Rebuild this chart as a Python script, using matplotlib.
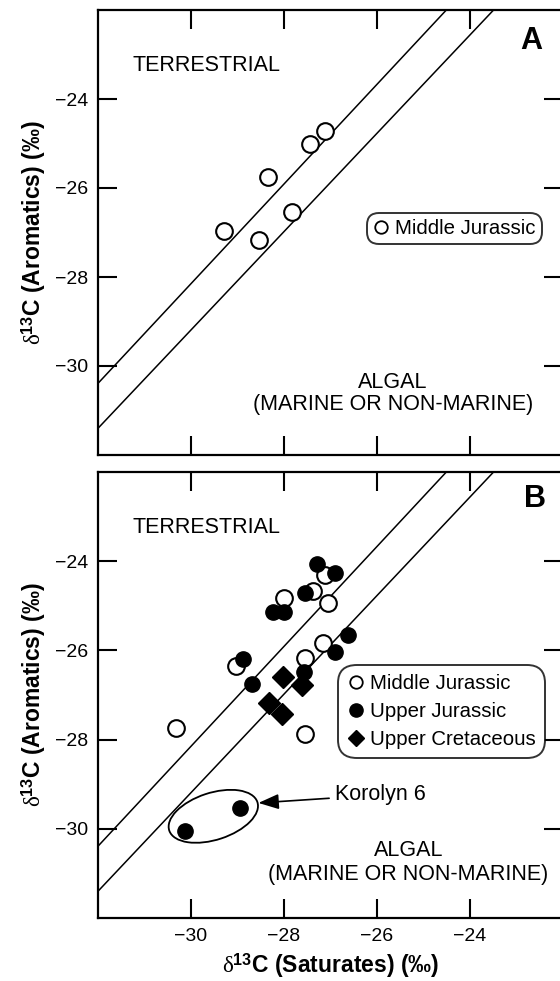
"""Carbon isotope cross-plot: saturates vs aromatics, panels A and B."""

import matplotlib
matplotlib.use("Agg")
import matplotlib.pyplot as plt
from matplotlib.lines import Line2D
from matplotlib.patches import Ellipse

plt.rcParams["font.family"] = ["Liberation Sans", "DejaVu Sans"]
plt.rcParams["mathtext.fontset"] = "custom"
plt.rcParams["mathtext.rm"] = "Liberation Serif"
plt.rcParams["mathtext.bf"] = "Liberation Sans:bold"
plt.rcParams["mathtext.default"] = "rm"

# panel A: Middle Jurassic only
a_mj_sat = [-29.30, -28.53, -28.35, -27.83, -27.45, -27.12]
a_mj_aro = [-26.97, -27.16, -25.75, -26.53, -25.02, -24.73]

# panel B
b_mj_sat = [-30.32, -29.04, -28.01, -27.38, -27.11, -27.06, -27.16, -27.54, -27.55]
b_mj_aro = [-27.75, -26.36, -24.82, -24.67, -24.32, -24.93, -25.84, -26.16, -27.87]

b_uj_sat = [-27.30, -26.91, -27.55, -28.24, -28.01, -26.63, -26.91, -28.88,
            -28.69, -27.57, -30.13, -28.94]
b_uj_aro = [-24.06, -24.26, -24.71, -25.13, -25.15, -25.65, -26.04, -26.19,
            -26.76, -26.48, -30.06, -29.54]

b_uc_sat = [-28.03, -27.62, -28.33, -28.05]
b_uc_aro = [-26.60, -26.78, -27.17, -27.43]

# boundary lines: aro = slope * sat + intercept
line_slopes = [1.12, 1.105]
line_intercepts = [5.45, 3.96]

ticks = [-30, -28, -26, -24]
lims = (-32, -22)
label_fs = 14
text_fs = 15.5
leg_fs = 14.7
axlab_fs = 16.5

fig = plt.figure(figsize=(5.6, 9.81), dpi=100)
ax_a = fig.add_axes([98 / 560, 526 / 981, 465 / 560, 445 / 981])
ax_b = fig.add_axes([98 / 560, 63 / 981, 465 / 560, 446 / 981])

open_style = dict(linestyle="none", marker="o", markersize=12,
                  markerfacecolor="white", markeredgecolor="black",
                  markeredgewidth=1.5)
fill_style = dict(linestyle="none", marker="o", markersize=11,
                  markerfacecolor="black", markeredgecolor="black")
diam_style = dict(linestyle="none", marker="D", markersize=11,
                  markerfacecolor="black", markeredgecolor="black")

ylab = r"$\delta^{\mathbf{13}}$C (Aromatics) (‰)"

for ax in (ax_a, ax_b):
    ax.set_xlim(lims)
    ax.set_ylim(lims)
    xs = [lims[0], lims[1]]
    for m, b in zip(line_slopes, line_intercepts):
        ax.plot(xs, [m * x + b for x in xs], color="black",
                linewidth=1.1, zorder=1)
    ax.set_xticks(ticks)
    ax.set_yticks(ticks)
    ax.tick_params(direction="in", length=14, width=1.5, top=True,
                   right=True, labelsize=label_fs, pad=7)
    for sp in ax.spines.values():
        sp.set_linewidth(1.6)
    ax.set_ylabel(ylab, fontsize=axlab_fs, fontweight="bold", labelpad=5)
    ax.text(-31.26, -23.24, "TERRESTRIAL", fontsize=text_fs, va="center",
            ha="left")

ax_a.set_xticklabels([])

# panel A
ax_a.plot(a_mj_sat, a_mj_aro, zorder=3, **open_style)
ax_a.text(-25.66, -30.36, "ALGAL", fontsize=text_fs, ha="center", va="center")
ax_a.text(-25.66, -30.87, "(MARINE OR NON-MARINE)", fontsize=text_fs,
          ha="center", va="center")
ax_a.text(-22.68, -22.69, "A", fontsize=22, fontweight="bold", ha="center",
          va="center")
h_open = Line2D([], [], linestyle="none", marker="o", markersize=9,
                markerfacecolor="white", markeredgecolor="black",
                markeredgewidth=1.3)
leg_a = ax_a.legend([h_open], ["Middle Jurassic"], loc="center",
                    bbox_to_anchor=(0.766, 0.509), fontsize=leg_fs,
                    frameon=True, fancybox=True, handlelength=0.8,
                    handletextpad=0.3, borderpad=0.3, borderaxespad=0)
leg_a.get_frame().set_edgecolor("black")
leg_a.get_frame().set_linewidth(1.4)
leg_a.get_frame().set_boxstyle("round,pad=0,rounding_size=0.6")

# panel B
ax_b.plot(b_mj_sat, b_mj_aro, zorder=3, **open_style)
ax_b.plot(b_uj_sat, b_uj_aro, zorder=4, **fill_style)
ax_b.plot(b_uc_sat, b_uc_aro, zorder=4, **diam_style)
ax_b.add_patch(Ellipse((-29.52, -29.72), 2.0, 1.05, angle=19,
                       facecolor="none", edgecolor="black", linewidth=1.3,
                       zorder=2))
ax_b.annotate("Korolyn 6", xy=(-28.55, -29.42), xytext=(-26.91, -29.24),
              fontsize=text_fs, va="center", ha="left",
              arrowprops=dict(arrowstyle="-|>,head_length=0.8,head_width=0.3",
                              color="black", linewidth=1.2, shrinkA=2,
                              shrinkB=0))
ax_b.text(-25.32, -30.49, "ALGAL", fontsize=text_fs, ha="center", va="center")
ax_b.text(-25.32, -31.02, "(MARINE OR NON-MARINE)", fontsize=text_fs,
          ha="center", va="center")
ax_b.text(-22.60, -22.60, "B", fontsize=22, fontweight="bold", ha="center",
          va="center")
h_fill = Line2D([], [], linestyle="none", marker="o", markersize=9.5,
                markerfacecolor="black", markeredgecolor="black")
h_diam = Line2D([], [], linestyle="none", marker="D", markersize=8.5,
                markerfacecolor="black", markeredgecolor="black")
leg_b = ax_b.legend([h_open, h_fill, h_diam],
                    ["Middle Jurassic", "Upper Jurassic", "Upper Cretaceous"],
                    loc="center", bbox_to_anchor=(0.739, 0.463),
                    fontsize=leg_fs, frameon=True, fancybox=True,
                    handlelength=0.8, handletextpad=0.3, borderpad=0.45,
                    labelspacing=0.45, borderaxespad=0)
leg_b.get_frame().set_edgecolor("black")
leg_b.get_frame().set_linewidth(1.4)
leg_b.get_frame().set_boxstyle("round,pad=0,rounding_size=0.9")

ax_b.set_xlabel(r"$\delta^{\mathbf{13}}$C (Saturates) (‰)", fontsize=axlab_fs,
                fontweight="bold", labelpad=5)

fig.savefig("out.png", dpi=100)
